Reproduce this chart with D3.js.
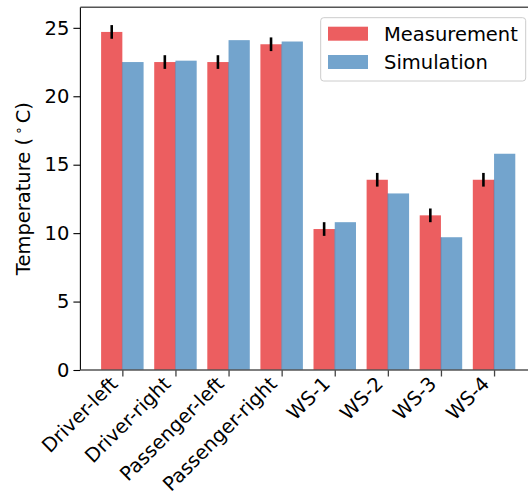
<!DOCTYPE html>
<html>
<head>
<meta charset="utf-8">
<script src="https://cdn.jsdelivr.net/npm/d3@7"></script>
<style>
  body { margin: 0; background: #fff; }
  svg { display: block; font-family: "DejaVu Sans", sans-serif; }
</style>
</head>
<body>
<svg id="chart" width="528" height="497"></svg>
<script>
const categories = ["Driver-left", "Driver-right", "Passenger-left", "Passenger-right", "WS-1", "WS-2", "WS-3", "WS-4"];
const measurement = [24.7, 22.5, 22.5, 23.8, 10.3, 13.9, 11.3, 13.9];
const measurementErr = [0.5, 0.5, 0.5, 0.5, 0.5, 0.5, 0.5, 0.5];
const simulation = [22.5, 22.6, 24.1, 24.0, 10.8, 12.9, 9.7, 15.8];
const yTicks = [0, 5, 10, 15, 20, 25];
const seriesNames = ["Measurement", "Simulation"];

const red = "#e41a1c";
const blue = "#377eb8";
const fs = 19.5;

const svg = d3.select("#chart");
const plot = { left: 80.4, right: 536, top: 7.3, bottom: 370 };

const x = d3.scaleLinear().domain([-0.79, categories.length - 1 + 0.79]).range([plot.left, plot.right]);
const y = d3.scaleLinear().domain([0, 26.5]).range([plot.bottom, plot.top]);
const barW = x(0.4) - x(0);

// bars
svg.append("g").selectAll("rect")
  .data(measurement)
  .join("rect")
  .attr("x", (d, i) => x(i - 0.4))
  .attr("y", (d) => y(d))
  .attr("width", barW)
  .attr("height", (d) => y(0) - y(d))
  .attr("fill", red)
  .attr("fill-opacity", 0.7);

svg.append("g").selectAll("rect")
  .data(simulation)
  .join("rect")
  .attr("x", (d, i) => x(i))
  .attr("y", (d) => y(d))
  .attr("width", barW)
  .attr("height", (d) => y(0) - y(d))
  .attr("fill", blue)
  .attr("fill-opacity", 0.7);

// faint seam where the two bars touch
svg.append("g").selectAll("line")
  .data(simulation)
  .join("line")
  .attr("x1", (d, i) => x(i))
  .attr("x2", (d, i) => x(i))
  .attr("y1", y(0))
  .attr("y2", (d, i) => y(Math.min(d, measurement[i])))
  .attr("stroke", "#5f6790")
  .attr("stroke-opacity", 0.6)
  .attr("stroke-width", 0.8);

// error bars
svg.append("g").selectAll("line")
  .data(measurement)
  .join("line")
  .attr("x1", (d, i) => x(i - 0.2))
  .attr("x2", (d, i) => x(i - 0.2))
  .attr("y1", (d, i) => y(d - measurementErr[i]))
  .attr("y2", (d, i) => y(d + measurementErr[i]))
  .attr("stroke", "#000")
  .attr("stroke-width", 2.6);

// axes
const xAxis = d3.axisBottom(x)
  .tickValues(d3.range(categories.length))
  .tickFormat((i) => categories[i])
  .tickSize(6.5);

svg.append("g")
  .attr("transform", `translate(0,${plot.bottom})`)
  .call(xAxis)
  .call((g) => {
    g.select(".domain").remove();
    g.selectAll(".tick line").attr("stroke", "#444").attr("stroke-width", 1.3);
    g.selectAll(".tick text")
      .attr("x", 0).attr("y", 0).attr("dy", 0)
      .attr("text-anchor", "end")
      .attr("transform", "translate(-4,15) rotate(-45)")
      .attr("fill", "#000")
      .style("font-size", fs + "px")
      .style("font-family", "DejaVu Sans");
  });

const yAxis = d3.axisLeft(y)
  .tickValues(yTicks)
  .tickSize(7)
  .tickPadding(4);

svg.append("g")
  .attr("transform", `translate(${plot.left},0)`)
  .call(yAxis)
  .call((g) => {
    g.select(".domain").remove();
    g.selectAll(".tick line").attr("stroke", "#000").attr("stroke-width", 1.1);
    g.selectAll(".tick text")
      .attr("fill", "#000")
      .style("font-size", fs + "px")
      .style("font-family", "DejaVu Sans");
  });

// spines
svg.append("line").attr("x1", plot.left).attr("x2", plot.left).attr("y1", plot.top).attr("y2", plot.bottom)
  .attr("stroke", "#000").attr("stroke-width", 1.1);
svg.append("line").attr("x1", plot.left).attr("x2", plot.right).attr("y1", plot.bottom).attr("y2", plot.bottom)
  .attr("stroke", "#555").attr("stroke-width", 1.6);
svg.append("line").attr("x1", plot.left).attr("x2", plot.right).attr("y1", plot.top).attr("y2", plot.top)
  .attr("stroke", "#555").attr("stroke-width", 1.6);
svg.append("line").attr("x1", plot.right).attr("x2", plot.right).attr("y1", plot.top).attr("y2", plot.bottom)
  .attr("stroke", "#555").attr("stroke-width", 1.6);

// y label
const ylab = svg.append("text")
  .attr("transform", `translate(29.5,${(plot.top + plot.bottom) / 2}) rotate(-90)`)
  .attr("text-anchor", "middle")
  .style("font-size", fs + "px")
  .attr("fill", "#000");
ylab.append("tspan").text("Temperature (");
ylab.append("tspan").attr("dx", 3).attr("dy", -7).style("font-size", (fs * 0.7) + "px").text("\u2218");
ylab.append("tspan").attr("dx", 3).attr("dy", 7).text("C)");

// legend
const lg = svg.append("g");
lg.append("rect")
  .attr("x", 320.7).attr("y", 17.7).attr("width", 205).attr("height", 63.3)
  .attr("rx", 3)
  .attr("fill", "#fff").attr("fill-opacity", 0.8)
  .attr("stroke", "#ccc").attr("stroke-width", 1);
const legendColors = [red, blue];
const legendY = [26.7, 55];
seriesNames.forEach((name, i) => {
  lg.append("rect")
    .attr("x", 328).attr("y", legendY[i]).attr("width", 40).attr("height", 14)
    .attr("fill", legendColors[i]).attr("fill-opacity", 0.7);
  lg.append("text")
    .attr("x", 384).attr("y", legendY[i] + 14.3)
    .style("font-size", fs + "px")
    .attr("fill", "#000")
    .text(name);
});
</script>
</body>
</html>
